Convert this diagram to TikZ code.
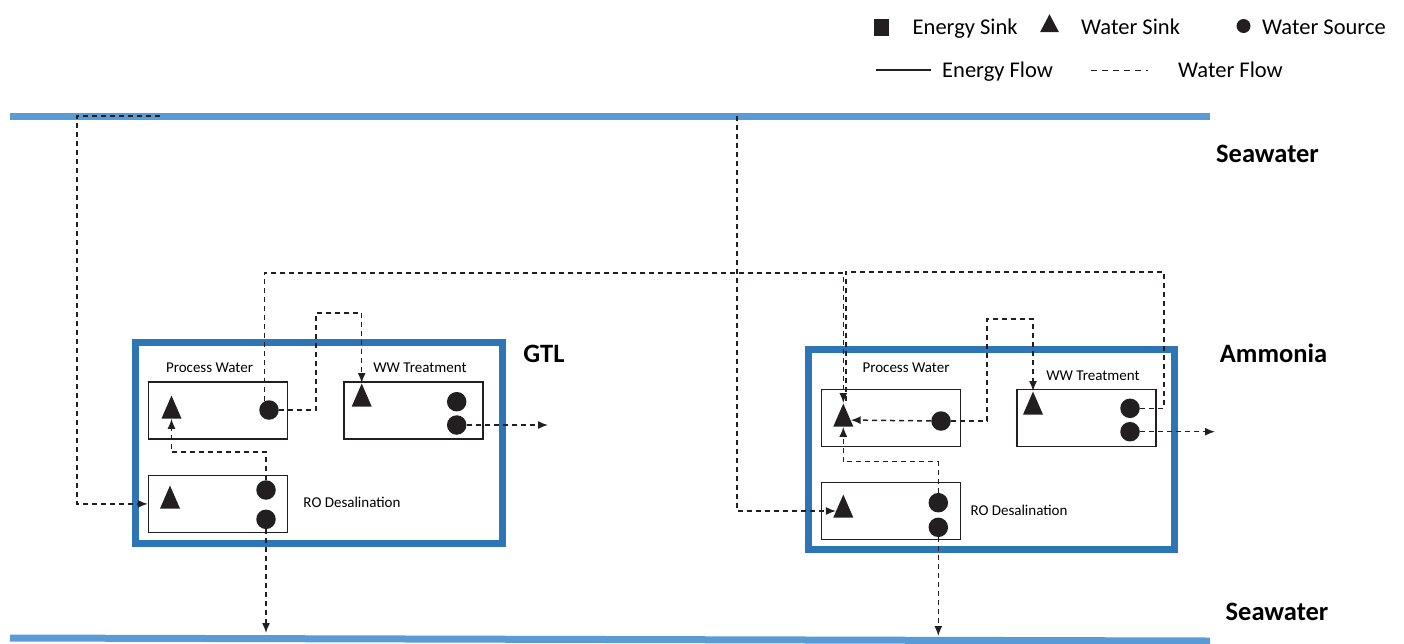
\documentclass[tikz,border=0pt]{standalone}
\usepackage{fontspec}
\setmainfont{Carlito}
\usetikzlibrary{positioning, shapes.geometric, arrows.meta}
\definecolor{seablue}{RGB}{91,155,213}
\definecolor{plantblue}{RGB}{46,117,182}
\definecolor{ink}{RGB}{35,31,32}
\tikzset{
    plant/.style={draw=plantblue, line width=7pt, minimum width=367pt, minimum height=201pt, inner sep=0pt},
    unitbox/.style={draw=ink, line width=1.4pt, minimum width=139pt, minimum height=57pt, inner sep=0pt},
    sink/.style={isosceles triangle, isosceles triangle stretches, shape border rotate=90, fill=ink, inner sep=0pt, minimum width=20pt, minimum height=23pt},
    source/.style={circle, fill=ink, inner sep=0pt, minimum size=19.5pt},
    sea/.style={draw=seablue, line width=7pt},
    flow/.style={draw=ink, line width=1.5pt, dash pattern=on 5pt off 4pt},
    flowarrow/.style={flow, -{Latex[length=10pt, width=8pt]}},
    unitlabel/.style={anchor=base, inner sep=0pt, font=\fontsize{15}{18}\selectfont},
    plantlabel/.style={anchor=base, inner sep=0pt, font=\fontsize{26.5}{32}\selectfont\bfseries},
    keytext/.style={anchor=base west, inner sep=0pt, font=\fontsize{22.5}{27}\selectfont}
}
\begin{document}
\begin{tikzpicture}[x=1pt, y=-1pt]
    \useasboundingbox (0,0) rectangle (1404,643);

    % Legend
    \node [fill=ink, minimum width=15pt, minimum height=17pt, inner sep=0pt] (keysquare) at (881,27.5) {};
    \node [keytext] (keyenergysink) at (912.5,34.5) {Energy Sink};
    \node [sink, minimum width=19pt, minimum height=18pt] (keysink) at (1049.5,26.5) {};
    \node [keytext] (keywatersink) at (1081,34.5) {Water Sink};
    \node [source, minimum size=14pt] (keysource) at (1243.5,26) {};
    \node [keytext] (keywatersource) at (1262,34) {Water Source};
    \coordinate (keyenergyA) at (876,70);
    \coordinate (keyenergyB) at (931,70);
    \draw [ink, line width=1.1pt] (keyenergyA) -- (keyenergyB);
    \node [keytext] (keyenergyflow) at (942,77) {Energy Flow};
    \coordinate (keywaterA) at (1091,70);
    \coordinate (keywaterB) at (1148,70);
    \draw [flow, line width=1pt, dash pattern=on 6pt off 5pt] (keywaterA) -- (keywaterB);
    \node [keytext] (keywaterflow) at (1178,77) {Water Flow};

    % Seawater lines
    \coordinate (seaTL) at (10,116);
    \coordinate (seaTR) at (1210,116);
    \coordinate (seaBL) at (10,638);
    \coordinate (seaBR) at (1210,641);
    \draw [sea] (seaTL) -- (seaTR);
    \draw [sea] (seaBL) -- (seaBR);
    \node [plantlabel] (seatop) at (1267.5,162.5) {Seawater};
    \node [plantlabel] (seabottom) at (1277,620) {Seawater};

    % GTL plant
    \node [plant] (gtl) at (318.7,443) {};
    \node [plantlabel] (gtllabel) at (544,362.5) {GTL};
    \node [unitbox] (gtlpw) at (218,410.5) {};
    \node [unitbox, right=55pt of gtlpw] (gtlww) {};
    \node [unitbox, below=35pt of gtlpw] (gtlro) {};
    \node [unitlabel] (gtlpwlabel) at (209.5,372.5) {Process Water};
    \node [unitlabel] (gtlwwlabel) at (420,372.5) {WW Treatment};
    \node [unitlabel] (gtlrolabel) at (352,507.5) {RO Desalination};
    \node [sink] (gtlpwsink) at (171.5,412) {};
    \node [source] (gtlpwsrc) at (269,410) {};
    \node [sink] (gtlwwsink) at (361.7,400) {};
    \node [source] (gtlwwsrcA) at (456.7,401.7) {};
    \node [source] (gtlwwsrcB) at (456.7,425) {};
    \node [sink] (gtlrosink) at (170,502) {};
    \node [source] (gtlrosrcA) at (266,490) {};
    \node [source] (gtlrosrcB) at (266,519.3) {};

    % Ammonia plant
    \node [plant, minimum width=366pt, minimum height=200pt] (amm) at (991.7,449.5) {};
    \node [plantlabel] (ammlabel) at (1273.5,362.5) {Ammonia};
    \node [unitbox] (ammpw) at (891.2,418) {};
    \node [unitbox, right=55pt of ammpw] (ammww) {};
    \node [unitbox, below=34.4pt of ammpw] (ammro) {};
    \node [unitlabel] (ammpwlabel) at (906,372.5) {Process Water};
    \node [unitlabel] (ammwwlabel) at (1093,380) {WW Treatment};
    \node [unitlabel] (ammrolabel) at (1019,515.5) {RO Desalination};
    \node [sink] (ammpwsink) at (843.3,420) {};
    \node [source] (ammpwsrc) at (941,421) {};
    \node [sink] (ammwwsink) at (1033,408) {};
    \node [source] (ammwwsrcA) at (1130,408.3) {};
    \node [source] (ammwwsrcB) at (1130,431.7) {};
    \node [sink] (ammrosink) at (843.3,511) {};
    \node [source] (ammrosrcA) at (938.3,502.7) {};
    \node [source] (ammrosrcB) at (938.3,527.3) {};

    % Free ends of the water flows
    \coordinate (gtlintake) at (160,116);
    \coordinate (gtldischarge) at (266,633);
    \coordinate (gtlout) at (548,425);
    \coordinate (ammintake) at (737,116);
    \coordinate (ammdischarge) at (938.3,636);
    \coordinate (ammout) at (1215,431.7);

    % GTL flows
    \draw [flowarrow] (gtlintake) -- (77,116) |- (gtlro);
    \draw [flowarrow] (gtlrosrcA) -- ++(0,-38) -| (gtlpwsink);
    \draw [flowarrow] (gtlrosrcB) -- (gtldischarge);
    \draw [flowarrow] (gtlpwsrc) -| (316,313) -| (gtlwwsink);
    \draw [flowarrow] (gtlwwsrcB) -- (gtlout);
    \draw [flowarrow] (gtlpwsrc.118) |- (500,273) -| (ammpwsink);

    % Ammonia flows
    \draw [flowarrow] (ammintake) |- (ammrosink);
    \draw [flowarrow] (ammrosrcA) -- ++(0,-41) -| (ammpwsink);
    \draw [flowarrow] (ammrosrcB) -- (ammdischarge);
    \draw [flowarrow] (ammpwsrc) -- (ammpwsink);
    \draw [flowarrow] (ammpwsrc) -| (987,319) -| (ammwwsink);
    \draw [flow] (ammwwsrcA) -| (1164,272) -| ([xshift=2.5pt]ammpwsink.apex);
    \draw [flowarrow] (ammwwsrcB) -- (ammout);
\end{tikzpicture}
\end{document}
